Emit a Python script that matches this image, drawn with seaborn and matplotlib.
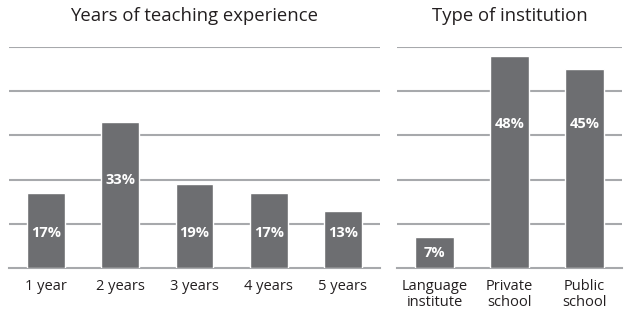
import matplotlib
matplotlib.use("Agg")
import matplotlib.pyplot as plt
import seaborn as sns
import pandas as pd
import numpy as np

# Data
exp_categories = ["1 year", "2 years", "3 years", "4 years", "5 years"]
exp_values = [17, 33, 19, 17, 13]
inst_categories = ["Language\ninstitute", "Private\nschool", "Public\nschool"]
inst_values = [7, 48, 45]

# Label heights (data units)
exp_label_y = [7.9, 19.9, 7.9, 7.9, 7.9]
inst_label_y = [3.4, 32.6, 32.6]

sns.set_theme(style="white")
plt.rcParams['font.family'] = ['Open Sans', 'DejaVu Sans']

BAR = "#6d6e71"
GRID = "#a7a9ac"
TEXT = "#231f20"

fig = plt.figure(figsize=(6.25, 3.26), dpi=100)
ax1 = fig.add_axes([9/625, 1-268/326, (380-9)/625, (268-47)/326])
ax2 = fig.add_axes([397/625, 1-268/326, (622-397)/625, (268-47)/326])

panels = [
    (ax1, exp_categories, exp_values, exp_label_y, "Years of teaching experience"),
    (ax2, inst_categories, inst_values, inst_label_y, "Type of institution"),
]

for ax, cats, vals, ly, title in panels:
    df = pd.DataFrame({"cat": cats, "val": vals})
    sns.barplot(data=df, x="cat", y="val", color=BAR, width=0.51, ax=ax,
                saturation=1, zorder=3)
    n = len(cats)
    ax.set_xlim(-0.5, n - 0.5)
    ax.set_ylim(0, 50)
    ax.set_yticks([10, 20, 30, 40, 50])
    ax.yaxis.grid(True, color=GRID, linewidth=1.5, zorder=0)
    ax.set_axisbelow(True)
    for s in ["top", "left", "right"]:
        ax.spines[s].set_visible(False)
    ax.spines["bottom"].set_color(GRID)
    ax.spines["bottom"].set_linewidth(1.5)
    ax.tick_params(axis="y", left=False, labelleft=False)
    ax.tick_params(axis="x", which="major", length=0, pad=8, labelsize=10.5,
                   labelcolor=TEXT)
    ax.set_xticks(np.arange(-0.5, n, 1.0), minor=True)
    ax.tick_params(axis="x", which="minor", direction="in", length=4.5,
                   width=1.5, color=GRID)
    ax.set_xlabel("")
    ax.set_ylabel("")
    for i, (v, y) in enumerate(zip(vals, ly)):
        ax.text(i, y, f"{v}%", ha="center", va="center", color="white",
                fontsize=10.5, fontweight="bold", zorder=5)
    ax.set_title(title, fontsize=13.3, color=TEXT, pad=19)
    for lab in ax.get_xticklabels():
        lab.set_linespacing(1.1)

fig.savefig("out.png", dpi=100)
